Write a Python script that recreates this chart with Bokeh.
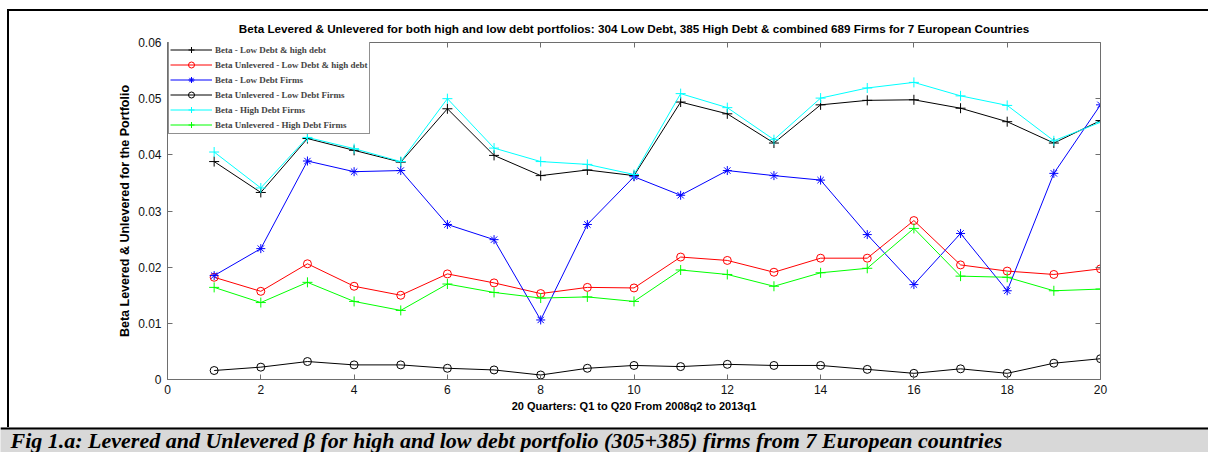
from bokeh.plotting import figure
from bokeh.layouts import column, row
from bokeh.models import (Range1d, LinearAxis, Legend, LegendItem, Label, Spacer, Div, Span,
                          FixedTicker, NumeralTickFormatter)
from bokeh.embed import file_html
from bokeh.resources import INLINE

# ---------------- data ----------------
quarters = list(range(1, 21))
beta_low_high = [0.0388, 0.0333, 0.0429, 0.0408, 0.0387, 0.0482, 0.0399, 0.0363, 0.0373, 0.0363,
                 0.0494, 0.0473, 0.0421, 0.0489, 0.0497, 0.0498, 0.0483, 0.0459, 0.0421, 0.0461]
unlev_low_high = [0.0182, 0.0157, 0.0206, 0.0166, 0.0150, 0.0188, 0.0172, 0.0153, 0.0164, 0.0163,
                  0.0218, 0.0212, 0.0191, 0.0216, 0.0216, 0.0283, 0.0204, 0.0193, 0.0187, 0.0197]
beta_low = [0.0185, 0.0233, 0.0389, 0.0370, 0.0372, 0.0276, 0.0249, 0.0106, 0.0276, 0.0361,
            0.0328, 0.0372, 0.0363, 0.0355, 0.0258, 0.0169, 0.0260, 0.0158, 0.0367, 0.0489]
unlev_low = [0.0016, 0.0022, 0.0032, 0.0026, 0.0026, 0.0020, 0.0017, 0.0008, 0.0020, 0.0025,
             0.0023, 0.0027, 0.0025, 0.0025, 0.0018, 0.0011, 0.0019, 0.0011, 0.0029, 0.0037]
beta_high = [0.0405, 0.0341, 0.0431, 0.0411, 0.0388, 0.0500, 0.0412, 0.0388, 0.0383, 0.0365,
             0.0509, 0.0484, 0.0427, 0.0501, 0.0519, 0.0529, 0.0505, 0.0488, 0.0425, 0.0458]
unlev_high = [0.0164, 0.0137, 0.0173, 0.0139, 0.0123, 0.0170, 0.0155, 0.0145, 0.0147, 0.0139,
              0.0195, 0.0187, 0.0166, 0.0190, 0.0198, 0.0269, 0.0184, 0.0182, 0.0158, 0.0161]

series_names = ["Beta - Low Debt & high debt", "Beta Unlevered - Low Debt & high debt",
                "Beta - Low Debt Firms", "Beta Unlevered - Low Debt Firms",
                "Beta - High Debt Firms", "Beta Unlevered - High Debt Firms"]
series_values = [beta_low_high, unlev_low_high, beta_low, unlev_low, beta_high, unlev_high]

x_ticks = [0, 2, 4, 6, 8, 10, 12, 14, 16, 18, 20]
y_ticks = [0, 0.01, 0.02, 0.03, 0.04, 0.05, 0.06]

title_text = ("Beta Levered & Unlevered for both high and low debt portfolios: 304 Low Debt, "
              "385 High Debt & combined 689 Firms for 7 European Countries")
x_label = "20 Quarters: Q1 to Q20 From 2008q2 to 2013q1"
y_label = "Beta Levered & Unlevered for the Portfolio"
caption = ("Fig 1.a: Levered and Unlevered \u03b2 for high and low debt portfolio (305+385) "
           "firms from 7 European countries")

# ---------------- styles ----------------
colors = ["#000000", "#ff0000", "#0000ff", "#000000", "#00ffff", "#00ff00"]
markers = ["cross", "circle", "asterisk", "circle", "cross", "cross"]
msizes = [10, 8, 9, 8, 10, 10]

W, H = 1208, 452
PAD_TOP, PAD_LEFT, LINE = 9, 7, 2          # outer frame lines
CAP_H = 25                                   # caption band (incl. 2px black top line)
MX0, MY0 = PAD_LEFT + LINE, PAD_TOP + LINE   # main figure origin on the page
MW, MH = W - MX0, H - MY0 - CAP_H
FL, FR, FT, FB = 167, 1100, 42, 379          # plot frame on the page
AX = "#6e6e6e"
SANS = "Liberation Sans"

p = figure(width=MW, height=MH, output_backend="svg", toolbar_location=None,
           x_range=Range1d(0, 20), y_range=Range1d(0, 0.06),
           min_border_left=FL - MX0, min_border_right=W - FR,
           min_border_top=FT - MY0, min_border_bottom=MY0 + MH - FB)
p.grid.visible = False
p.outline_line_color = None
p.background_fill_color = "white"
p.border_fill_color = "white"

p.title.text = title_text
p.title.align = "center"
p.title.text_font = SANS
p.title.text_font_style = "bold"
p.title.text_font_size = "11.7px"
p.title.text_color = "#000000"
p.title.standoff = 15


def style_axis(ax, show_labels):
    ax.axis_line_color = AX
    ax.major_tick_line_color = AX
    ax.major_tick_in = 5
    ax.major_tick_out = 0
    ax.minor_tick_line_color = None
    ax.major_label_text_font = SANS
    ax.major_label_text_font_size = "12px"
    ax.major_label_text_color = "#111111"
    if not show_labels:
        ax.major_label_text_font_size = "0px"
        ax.major_label_text_color = None
        ax.major_label_standoff = 0


xa = p.xaxis[0]
ya = p.yaxis[0]
xa.ticker = FixedTicker(ticks=x_ticks)
ya.ticker = FixedTicker(ticks=y_ticks)
ya.formatter = NumeralTickFormatter(format="0.[00]")
style_axis(xa, True)
style_axis(ya, True)
xa.major_label_standoff = 5
ya.major_label_standoff = 6
xa.axis_label = x_label
ya.axis_label = y_label
for ax in (xa, ya):
    ax.axis_label_text_font = SANS
    ax.axis_label_text_font_style = "bold"
    ax.axis_label_text_color = "#000000"
xa.axis_label_text_font_size = "11px"
ya.axis_label_text_font_size = "12.5px"
xa.axis_label_standoff = 3
ya.axis_label_standoff = 3

ra = LinearAxis(ticker=FixedTicker(ticks=y_ticks))
ta = LinearAxis(ticker=FixedTicker(ticks=x_ticks))
style_axis(ra, False)
style_axis(ta, False)
p.add_layout(ra, "right")
p.add_layout(ta, "above")

items = []
for name, vals, c, m, s in zip(series_names, series_values, colors, markers, msizes):
    lr = p.line(quarters, vals, line_color=c, line_width=1)
    if m == "circle":
        sr = p.scatter(quarters, vals, marker=m, size=s, line_color=c, fill_color=None, line_width=1)
    else:
        sr = p.scatter(quarters, vals, marker=m, size=s, line_color=c, line_width=1)
    items.append(LegendItem(label=name, renderers=[lr, sr]))

legend = Legend(items=items, location=(1, FB - 134), margin=0, padding=1, spacing=0,
                glyph_width=42, glyph_height=15, label_height=15, label_standoff=3,
                label_text_font="Liberation Serif", label_text_font_style="bold",
                label_text_font_size="9px", border_line_color="#222222",
                border_line_width=1, background_fill_color="white", background_fill_alpha=1)
p.add_layout(legend)

# outer frame lines (plain blocks)
top_line = Div(text="", width=W - PAD_LEFT, height=LINE, margin=0,
               styles={"background-color": "black"})
left_line = Div(text="", width=LINE, height=MH, margin=0,
                styles={"background-color": "black"})

# caption band
cap = figure(width=W, height=CAP_H, output_backend="svg", toolbar_location=None, title=None,
             x_axis_location=None, y_axis_location=None, min_border=0,
             background_fill_color="#d8d8d8", border_fill_color="#d8d8d8",
             x_range=Range1d(0, 1), y_range=Range1d(0, 1))
cap.grid.visible = False
cap.outline_line_color = None
cap.add_layout(Span(location=1, dimension="width", line_color="black", line_width=4))
cap.add_layout(Label(x=10, y=12, x_units="screen", y_units="screen", text=caption,
                     text_align="left", text_baseline="middle", text_font="Liberation Serif",
                     text_font_style="bold italic", text_font_size="22px", text_color="#000000"))

layout = column(
    Spacer(width=W, height=PAD_TOP, margin=0),
    row(Spacer(width=PAD_LEFT, height=LINE, margin=0), top_line),
    row(Spacer(width=PAD_LEFT, height=MH, margin=0), left_line, p),
    cap,
)

open("out.html", "w").write(file_html(layout, INLINE))
